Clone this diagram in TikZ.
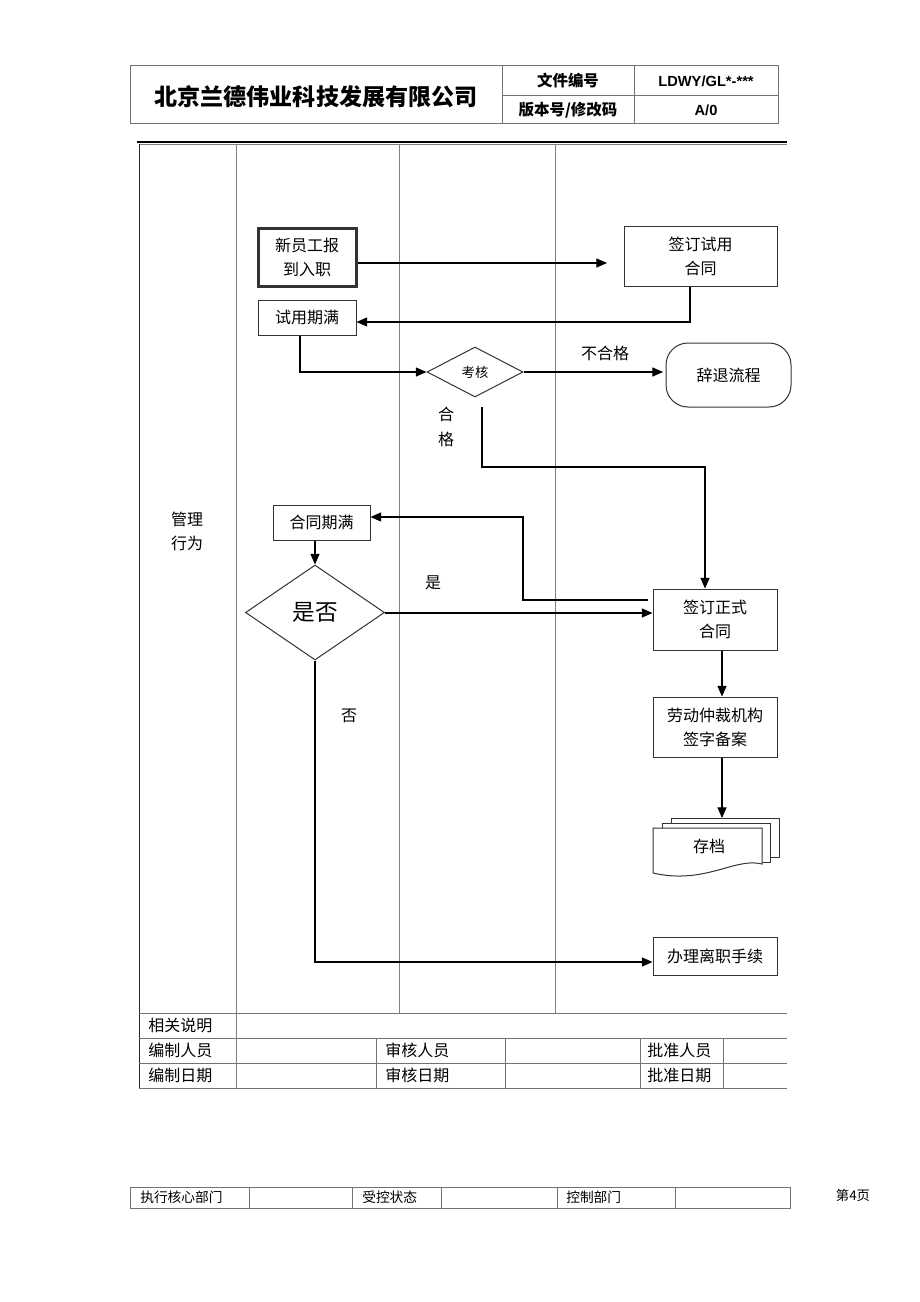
\documentclass[tikz,border=0pt]{standalone}
\usepackage{fontspec}
\setmainfont{Noto Sans CJK SC}
\newfontfamily\arialfont{Liberation Sans}
\usetikzlibrary{arrows.meta,shapes.geometric}
\def\u{0.75pt}
\tikzset{
  box/.style={draw=black!80, line width=0.75pt, inner sep=0pt, align=center,
    font=\fontsize{12pt}{18pt}\selectfont},
  flow/.style={-{Triangle[length=8pt,width=6.8pt]}, line width=0.8pt, draw=black},
  lane/.style={draw=black!50, line width=0.75pt},
  tbl/.style={draw=black!55, line width=0.75pt},
  lbl/.style={inner sep=0pt, font=\fontsize{12pt}{14pt}\selectfont},
  cell/.style={inner sep=0pt, anchor=west, font=\fontsize{12pt}{14pt}\selectfont},
  fcell/.style={inner sep=0pt, anchor=west, font=\fontsize{10.3pt}{12pt}\selectfont},
  doc/.style={draw=black!80, line width=0.75pt, fill=white}
}
\begin{document}
\begin{tikzpicture}[x=0.75pt,y=-0.75pt]
\useasboundingbox[fill=white] (0,0) rectangle (920,1302);

% ---------- header ----------
\draw[tbl] (130,66) rectangle (778,124);
\draw[tbl] (502,66) -- (502,124);
\draw[tbl] (634,66) -- (634,124);
\draw[tbl] (502,96) -- (778,96);
\node[inner sep=0pt, font=\fontsize{17.3pt}{20pt}\selectfont\bfseries] (title) at (316,97) {北京兰德伟业科技发展有限公司};
\node[inner sep=0pt, font=\fontsize{11.6pt}{14pt}\selectfont\bfseries] (h1) at (568,81) {文件编号};
\node[inner sep=0pt, font=\fontsize{11.6pt}{14pt}\selectfont\bfseries] (h2) at (568,110) {版本号/修改码};
\node[inner sep=0pt, font=\arialfont\fontsize{11pt}{13pt}\selectfont\bfseries] (h3) at (706,81) {LDWY/GL*-***};
\node[inner sep=0pt, font=\arialfont\fontsize{11pt}{13pt}\selectfont\bfseries] (h4) at (706,110) {A/0};

% ---------- swimlane frame ----------
\draw[line width=1pt, draw=black] (137,142) -- (787,142);
\draw[lane] (139,144.5) -- (787,144.5);
\draw[line width=0.75pt, draw=black!85] (139,144) -- (139,1088);
\draw[lane] (236,144) -- (236,1088);
\draw[lane] (399,144) -- (399,1013);
\draw[lane] (555,144) -- (555,1013);

\node[lbl, align=center, font=\fontsize{12pt}{18pt}\selectfont] (mgmt) at (187,531) {管理\\行为};

% ---------- flow nodes ----------
\node[box, line width=2.25pt, minimum width=98*\u, minimum height=58*\u] (new) at (307,257) {新员工报\\到入职};
\node[box, minimum width=153*\u, minimum height=60*\u] (sign1) at (700.5,256) {签订试用\\合同};
\node[box, minimum width=98*\u, minimum height=35*\u] (trial) at (307,317.5) {试用期满};
\node[diamond, draw=black!80, line width=0.75pt, inner sep=0pt, minimum width=96*\u, minimum height=50*\u, font=\fontsize{10pt}{12pt}\selectfont] (exam) at (475,372) {考核};
\node[box, rounded corners=22*\u, minimum width=125*\u, minimum height=64*\u] (quit) at (728.5,375) {辞退流程};
\node[box, minimum width=97*\u, minimum height=35*\u] (expire) at (321.5,522.5) {合同期满};
\node[diamond, draw=black!80, line width=0.75pt, inner sep=0pt, minimum width=139*\u, minimum height=95*\u, font=\fontsize{17pt}{20pt}\selectfont] (decide) at (315,612.5) {是否};
\node[box, minimum width=124*\u, minimum height=61*\u] (sign2) at (715,619.5) {签订正式\\合同};
\node[box, minimum width=124*\u, minimum height=60*\u] (labor) at (715,727) {劳动仲裁机构\\签字备案};
\node[box, minimum width=124*\u, minimum height=38*\u] (leave) at (715,956) {办理离职手续};

% 存档 multi-document
\draw[doc] (671,818) -- (779,818) -- (779,857) -- (671,857) -- cycle;
\draw[doc] (662,823) -- (770,823) -- (770,862) -- (662,862) -- cycle;
\draw[doc] (653,828) -- (762,828) -- (762,864) .. controls (735,857) and (705,885) .. (653,873) -- cycle;
\node[lbl] (arch) at (709,846) {存档};
\coordinate (archtop) at (722,818);

% ---------- connectors ----------
\coordinate (t1) at (607,263);
\draw[flow] (new.east |- t1) -- (t1);

\coordinate (c1) at (690,322);
\draw[flow] (sign1.south -| c1) -- (c1) -- (trial.east |- c1);

\coordinate (c2) at (300,372);
\draw[flow] (trial.south -| c2) -- (c2) -- (exam.west);

\coordinate (t2) at (663,372);
\draw[flow] (exam.east) -- (t2);
\node[lbl] (fail) at (605,353) {不合格};

\coordinate (q0) at (482,407);
\coordinate (q1) at (482,467);
\coordinate (q2) at (705,467);
\draw[flow] (q0) -- (q1) -- (q2) -- (q2 |- sign2.north);
\node[lbl] (pass1) at (446,414) {合};
\node[lbl] (pass2) at (446,439) {格};

\coordinate (r0) at (648,600);
\coordinate (r1) at (523,600);
\coordinate (r2) at (523,517);
\draw[flow] (r0) -- (r1) -- (r2) -- (expire.east |- r2);

\draw[flow] (expire.south -| decide.north) -- (decide.north);

\coordinate (y0) at (384,613);
\draw[flow] (decide.east |- y0) -- (sign2.west |- y0);
\node[lbl] (yes) at (433,583) {是};

\coordinate (s2) at (722,650);
\draw[flow] (sign2.south -| s2) -- (labor.north -| s2);
\draw[flow] (labor.south -| archtop) -- (archtop);

\coordinate (n1) at (315,962);
\draw[flow] (decide.south) -- (n1) -- (leave.west |- n1);
\node[lbl] (no) at (349,716) {否};

% ---------- bottom table ----------
\draw[tbl] (139,1013) -- (787,1013);
\draw[tbl] (139,1038) -- (787,1038);
\draw[tbl] (139,1063) -- (787,1063);
\draw[tbl] (139,1088) -- (787,1088);
\foreach \xx in {376,505,640,723} { \draw[tbl] (\xx,1038) -- (\xx,1088); }
\node[cell] (d1) at (148,1025.5) {相关说明};
\node[cell] (d2) at (148,1050.5) {编制人员};
\node[cell] (d3) at (148,1075.5) {编制日期};
\node[cell] (d4) at (385,1050.5) {审核人员};
\node[cell] (d5) at (385,1075.5) {审核日期};
\node[cell] (d6) at (647,1050.5) {批准人员};
\node[cell] (d7) at (647,1075.5) {批准日期};

% ---------- footer ----------
\draw[tbl] (130,1187) rectangle (790,1208);
\foreach \xx in {249,352,441,557,675} { \draw[tbl] (\xx,1187) -- (\xx,1208); }
\node[fcell] (f1) at (140,1197.5) {执行核心部门};
\node[fcell] (f2) at (362,1197.5) {受控状态};
\node[fcell] (f3) at (566,1197.5) {控制部门};
\node[inner sep=0pt, font=\fontsize{10pt}{12pt}\selectfont] (page) at (853,1195) {第4页};
\end{tikzpicture}
\end{document}
